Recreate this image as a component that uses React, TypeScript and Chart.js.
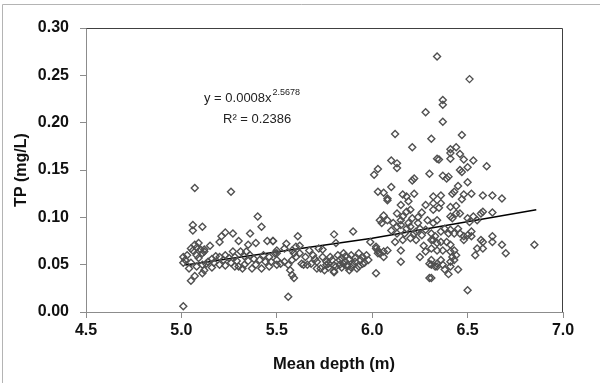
import React, { useEffect, useRef } from "react";
import { Chart, registerables } from "chart.js";

Chart.register(...registerables);

// Mean depth (m) of each sample
const depth: number[] = [
  // 5.0 - 5.5
  5.01, 5.07, 5.26, 5.06, 5.06, 5.11, 5.40, 5.42, 5.36, 5.23, 5.27, 5.21, 5.20, 5.30, 5.35, 5.39, 5.45, 5.48,
  5.05, 5.01, 5.02, 5.07, 5.08, 5.10, 5.08, 5.09, 5.11, 5.06, 5.09, 5.12, 5.15, 5.12, 5.18, 5.20, 5.23, 5.27,
  5.23, 5.29, 5.31, 5.30, 5.32, 5.35, 5.37, 5.39, 5.42, 5.46, 5.46, 5.50, 5.50, 5.01, 5.04, 5.05, 5.07, 5.11,
  5.12, 5.08, 5.11, 5.13, 5.03, 5.05, 5.14, 5.16, 5.17, 5.22, 5.25, 5.26, 5.28, 5.33, 5.34, 5.36, 5.38, 5.41,
  5.43, 5.44, 5.33, 5.28, 5.20, 5.16,
  // 5.5 - 6.0
  5.56, 5.48, 5.61, 5.80, 5.90, 5.50, 5.49, 5.47, 5.50, 5.52, 5.54, 5.56, 5.57, 5.58, 5.59, 5.58, 5.60, 5.62,
  5.59, 5.63, 5.66, 5.68, 5.71, 5.73, 5.75, 5.77, 5.80, 5.81, 5.83, 5.85, 5.87, 5.88, 5.90, 5.92, 5.94, 5.67,
  5.72, 5.74, 5.81, 5.78, 5.82, 5.84, 5.86, 5.88, 5.89, 5.91, 5.93, 5.95, 5.96, 5.97, 5.98, 5.86, 5.84, 5.79,
  5.76, 5.80, 5.87, 5.93, 5.70, 5.74, 5.65, 5.54, 5.60, 5.58, 5.64, 5.71, 5.76, 5.80, 5.69, 5.55, 5.62, 5.91,
  5.85, 5.83, 5.95, 5.89, 5.77,
  // 6.0 - 6.35
  6.02, 6.03, 6.02, 6.34, 6.28, 6.12, 6.31, 6.21, 6.34, 6.10, 6.13, 6.13, 6.03, 6.01, 6.30, 6.22, 6.21, 6.10,
  6.03, 6.06, 6.08, 6.08, 6.16, 6.18, 6.22, 6.15, 6.19, 6.28, 6.32, 6.32, 6.32, 6.13, 6.06, 6.04, 6.08, 6.05,
  6.15, 6.16, 6.18, 6.20, 6.21, 6.19, 6.11, 6.13, 6.15, 6.20, 6.24, 6.25, 6.29, 6.28, 6.26, 6.22, 6.17, 6.13,
  6.12, 6.16, 6.20, 6.23, 6.31, 5.99, 6.02, 6.03, 6.06, 6.08, 6.04, 6.06, 6.15, 6.15, 6.28, 6.31, 6.30, 6.31,
  6.33, 6.30, 6.25, 6.27, 6.24, 6.26, 6.10, 6.18, 6.23,
  // 6.35 - 6.9
  6.37, 6.37, 6.37, 6.51, 6.47, 6.41, 6.44, 6.41, 6.41, 6.46, 6.35, 6.48, 6.53, 6.60, 6.50, 6.46, 6.37, 6.40,
  6.39, 6.47, 6.50, 6.45, 6.43, 6.42, 6.48, 6.52, 6.47, 6.58, 6.63, 6.68, 6.36, 6.36, 6.35, 6.41, 6.44, 6.41,
  6.44, 6.42, 6.46, 6.50, 6.53, 6.57, 6.58, 6.63, 6.55, 6.51, 6.32, 6.34, 6.31, 6.33, 6.36, 6.38, 6.40, 6.41,
  6.43, 6.45, 6.46, 6.48, 6.48, 6.50, 6.52, 6.52, 6.32, 6.34, 6.36, 6.39, 6.41, 6.37, 6.34, 6.41, 6.43, 6.42,
  6.41, 6.44, 6.31, 6.34, 6.36, 6.37, 6.41, 6.34, 6.43, 6.57, 6.58, 6.55, 6.58, 6.63, 6.63, 6.68, 6.70, 6.54,
  6.85, 6.50, 6.31, 6.38, 6.40, 6.45,
];

// TP (mg/L) of each sample, same order as depth
const tp: number[] = [
  // 5.0 - 5.5
  0.006, 0.131, 0.127, 0.092, 0.086, 0.090, 0.101, 0.090, 0.083, 0.084, 0.083, 0.080, 0.074, 0.075, 0.071, 0.073, 0.075, 0.075,
  0.067, 0.058, 0.055, 0.071, 0.068, 0.066, 0.060, 0.057, 0.062, 0.065, 0.073, 0.064, 0.070, 0.066, 0.059, 0.058, 0.060, 0.064,
  0.049, 0.054, 0.064, 0.048, 0.046, 0.054, 0.046, 0.050, 0.046, 0.048, 0.058, 0.062, 0.050, 0.052, 0.046, 0.033, 0.038, 0.041,
  0.044, 0.048, 0.050, 0.051, 0.060, 0.052, 0.053, 0.056, 0.052, 0.055, 0.057, 0.052, 0.058, 0.059, 0.064, 0.060, 0.056, 0.055,
  0.060, 0.053, 0.050, 0.048, 0.050, 0.047,
  // 5.5 - 6.0
  0.016, 0.075, 0.080, 0.082, 0.085, 0.065, 0.062, 0.053, 0.055, 0.051, 0.053, 0.050, 0.044, 0.039, 0.036, 0.065, 0.069, 0.062,
  0.062, 0.051, 0.050, 0.051, 0.053, 0.046, 0.044, 0.051, 0.043, 0.048, 0.055, 0.051, 0.048, 0.044, 0.050, 0.046, 0.055, 0.065,
  0.067, 0.066, 0.073, 0.058, 0.060, 0.057, 0.059, 0.056, 0.060, 0.057, 0.062, 0.058, 0.052, 0.060, 0.055, 0.053, 0.047, 0.055,
  0.053, 0.049, 0.050, 0.048, 0.056, 0.058, 0.058, 0.067, 0.058, 0.055, 0.050, 0.046, 0.050, 0.042, 0.060, 0.072, 0.070, 0.053,
  0.062, 0.050, 0.051, 0.047, 0.047,
  // 6.0 - 6.35
  0.067, 0.062, 0.041, 0.270, 0.211, 0.188, 0.183, 0.174, 0.162, 0.160, 0.157, 0.152, 0.151, 0.145, 0.146, 0.141, 0.139, 0.132,
  0.127, 0.126, 0.120, 0.118, 0.124, 0.122, 0.125, 0.113, 0.117, 0.113, 0.122, 0.115, 0.108, 0.104, 0.102, 0.097, 0.097, 0.094,
  0.097, 0.101, 0.106, 0.108, 0.099, 0.094, 0.094, 0.090, 0.092, 0.090, 0.094, 0.088, 0.097, 0.087, 0.081, 0.083, 0.083, 0.083,
  0.074, 0.076, 0.078, 0.076, 0.076, 0.074, 0.069, 0.065, 0.064, 0.065, 0.062, 0.058, 0.065, 0.053, 0.064, 0.067, 0.051, 0.050,
  0.048, 0.036, 0.058, 0.070, 0.100, 0.105, 0.086, 0.088, 0.085,
  // 6.35 - 6.9
  0.224, 0.219, 0.201, 0.246, 0.187, 0.172, 0.174, 0.168, 0.162, 0.167, 0.161, 0.161, 0.160, 0.154, 0.153, 0.150, 0.144, 0.143,
  0.141, 0.148, 0.137, 0.133, 0.127, 0.125, 0.124, 0.125, 0.119, 0.123, 0.123, 0.120, 0.123, 0.115, 0.110, 0.111, 0.112, 0.101,
  0.104, 0.099, 0.104, 0.099, 0.101, 0.104, 0.106, 0.105, 0.097, 0.095, 0.094, 0.097, 0.083, 0.080, 0.085, 0.088, 0.083, 0.087,
  0.083, 0.088, 0.083, 0.080, 0.076, 0.081, 0.085, 0.080, 0.076, 0.073, 0.074, 0.074, 0.071, 0.065, 0.065, 0.064, 0.065, 0.058,
  0.053, 0.060, 0.055, 0.051, 0.055, 0.050, 0.048, 0.048, 0.055, 0.076, 0.074, 0.067, 0.067, 0.080, 0.074, 0.071, 0.062, 0.060,
  0.071, 0.023, 0.036, 0.045, 0.040, 0.045,
];

// Power trend line
const trendDepth: number[] = [5.02, 6.0, 6.86];
const trendTp: number[] = [0.0497, 0.078, 0.108];

const xTicks: number[] = [4.5, 5.0, 5.5, 6.0, 6.5, 7.0];
const yTicks: number[] = [0, 0.05, 0.1, 0.15, 0.2, 0.25, 0.3];

const xTitle = "Mean depth (m)";
const yTitle = "TP (mg/L)";
const equation = "y = 0.0008x";
const exponent = "2.5678";
const rSquared = "R\u00B2 = 0.2386";

export default function App() {
  const ref = useRef<HTMLCanvasElement | null>(null);

  useEffect(() => {
    document.body.style.margin = "0";
    const canvas = ref.current;
    if (!canvas) return;

    const decor = {
      id: "decor",
      beforeDraw(chart: any) {
        const ctx = chart.ctx;
        ctx.save();
        ctx.strokeStyle = "#b4b4b4";
        ctx.lineWidth = 1;
        ctx.beginPath();
        ctx.moveTo(2.5, 383);
        ctx.lineTo(2.5, 4.5);
        ctx.lineTo(600, 4.5);
        ctx.stroke();
        ctx.restore();
      },
      afterDraw(chart: any) {
        const ctx = chart.ctx;
        const a = chart.chartArea;
        ctx.save();
        ctx.strokeStyle = "#404040";
        ctx.lineWidth = 1;
        ctx.beginPath();
        ctx.moveTo(Math.round(a.left) + 0.5, Math.round(a.top) + 0.5);
        ctx.lineTo(Math.round(a.right) - 0.5, Math.round(a.top) + 0.5);
        ctx.lineTo(Math.round(a.right) - 0.5, Math.round(a.bottom));
        ctx.stroke();

        // x axis title
        ctx.fillStyle = "#111";
        ctx.font = 'bold 16.5px "Liberation Sans", Arial, sans-serif';
        ctx.textAlign = "center";
        ctx.textBaseline = "middle";
        ctx.fillText(xTitle, 334, 364);

        // equation
        ctx.fillStyle = "#222";
        ctx.textAlign = "left";
        ctx.font = '13px "Liberation Sans", Arial, sans-serif';
        ctx.fillText(equation, 204, 98);
        const w = ctx.measureText(equation).width;
        ctx.font = '9px "Liberation Sans", Arial, sans-serif';
        ctx.fillText(exponent, 204 + w + 1, 93);
        ctx.font = '13px "Liberation Sans", Arial, sans-serif';
        ctx.fillText(rSquared, 223, 119);
        ctx.restore();
      },
    };

    const points = depth.map((d, i) => ({ x: d, y: tp[i] }));
    const trend = trendDepth.map((d, i) => ({ x: d, y: trendTp[i] }));

    const tickFont = { family: '"Liberation Sans", Arial, sans-serif', size: 16, weight: "bold" as const };

    const chart = new Chart(canvas, {
      type: "scatter",
      data: {
        datasets: [
          {
            label: "TP",
            data: points,
            pointStyle: "rectRot",
            pointRadius: 3.5,
            pointBorderWidth: 1.4,
            borderColor: "#505050",
            backgroundColor: "rgba(255,255,255,0)",
            showLine: false,
          },
          {
            label: "trend",
            data: trend,
            showLine: true,
            borderColor: "#000",
            borderWidth: 1.5,
            pointRadius: 0,
            fill: false,
          },
        ],
      },
      options: {
        animation: false,
        responsive: false,
        layout: { padding: { top: 28, right: 37, left: 0, bottom: 0 } },
        plugins: { legend: { display: false }, tooltip: { enabled: false } },
        scales: {
          x: {
            type: "linear",
            min: 4.5,
            max: 7.0,
            afterFit: (s: any) => {
              s.height = 71;
            },
            afterBuildTicks: (s: any) => {
              s.ticks = xTicks.map((v) => ({ value: v }));
            },
            ticks: {
              font: tickFont,
              color: "#111",
              padding: 3,
              maxRotation: 0,
              autoSkip: false,
              callback: (v: any) => Number(v).toFixed(1),
            },
            grid: { drawOnChartArea: false, drawTicks: true, tickLength: 6, color: "#8c8c8c" },
            border: { display: true, color: "#8c8c8c", width: 1 },
          },
          y: {
            type: "linear",
            min: 0,
            max: 0.3,
            afterFit: (s: any) => {
              s.width = 86;
            },
            afterBuildTicks: (s: any) => {
              s.ticks = yTicks.map((v) => ({ value: v }));
            },
            ticks: {
              font: tickFont,
              color: "#111",
              padding: 11,
              autoSkip: false,
              callback: (v: any) => Number(v).toFixed(2),
            },
            title: {
              display: true,
              text: yTitle,
              color: "#111",
              font: tickFont,
              padding: { top: 12, bottom: 0 },
            },
            grid: { drawOnChartArea: false, drawTicks: true, tickLength: 6, color: "#8c8c8c" },
            border: { display: true, color: "#8c8c8c", width: 1 },
          },
        },
      },
      plugins: [decor],
    });

    return () => chart.destroy();
  }, []);

  return (
    <div style={{ width: 600, height: 383, position: "relative" }}>
      <canvas ref={ref} width={600} height={383} style={{ display: "block" }} />
    </div>
  );
}
